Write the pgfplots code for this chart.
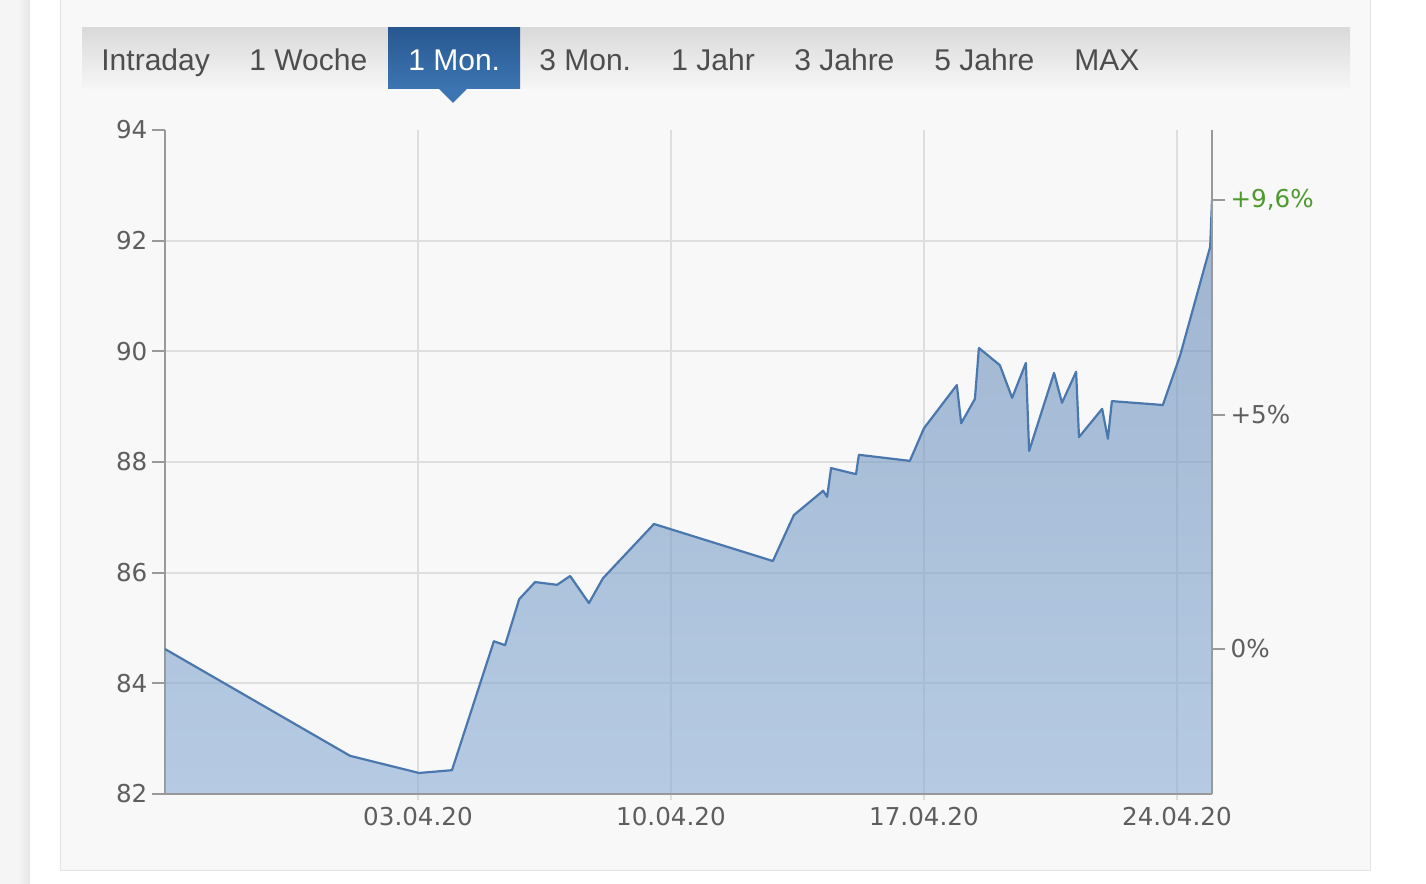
\documentclass[border=0pt]{standalone}
\usepackage{pgfplots}
\pgfplotsset{compat=1.18}
\usepackage{pgfplotstable}
\usepackage{fontspec}
\setmainfont{Liberation Sans}
\newfontfamily\tickfont{DejaVu Sans}

\definecolor{panelbg}{HTML}{F8F8F8}
\definecolor{panelborder}{HTML}{E3E3E3}
\definecolor{stripbg}{HTML}{F5F5F5}
\definecolor{stripdark}{HTML}{E6E6E6}
\definecolor{tabtop}{HTML}{DADADA}
\definecolor{tabbot}{HTML}{F6F6F6}
\definecolor{tabtext}{HTML}{4D4D4D}
\definecolor{seltop}{HTML}{285890}
\definecolor{selbot}{HTML}{3C75B2}
\definecolor{axisgray}{HTML}{999999}
\definecolor{gridcol}{HTML}{DEDEDE}
\definecolor{ticktext}{HTML}{5E5E5E}
\definecolor{pctgreen}{HTML}{4E9A2E}
\definecolor{linecol}{HTML}{4A78AE}
\definecolor{filltop}{HTML}{6488B5}
\definecolor{fillbot}{HTML}{8AADD5}

% days since 27.03.2020, price
\pgfplotstableread{
day   kurs
0     84.62
5.12  82.69
7.03  82.38
7.94  82.43
9.10  84.76
9.41  84.69
9.80  85.52
10.24 85.83
10.85 85.78
11.21 85.94
11.73 85.45
12.12 85.90
13.53 86.88
16.82 86.21
17.40 87.04
18.21 87.48
18.32 87.37
18.43 87.89
19.12 87.78
19.20 88.13
20.61 88.02
21.00 88.61
21.91 89.39
22.03 88.70
22.41 89.14
22.52 90.06
23.10 89.75
23.44 89.16
23.82 89.79
23.91 88.20
24.60 89.61
24.82 89.07
25.21 89.63
25.29 88.45
25.93 88.96
26.09 88.42
26.20 89.10
27.61 89.03
28.09 89.93
28.92 91.89
28.97 92.73
}\kurs

\begin{document}
\begin{tikzpicture}[x=0.5pt,y=0.5pt]
\useasboundingbox (0,0) rectangle (1426,884);
\fill[white] (0,0) rectangle (1426,884);
% left strip
\fill[stripbg] (0,0) rectangle (30,884);
\shade[left color=stripbg, right color=stripdark] (18,0) rectangle (30,884);
% panel
\fill[panelbg] (60,14) rectangle (1371,884);
\draw[panelborder, line width=0.8pt] (60.5,884) -- (60.5,13.5) -- (1370.5,13.5) -- (1370.5,884);
% tab bar
\shade[top color=tabtop, bottom color=tabbot] (82,795) rectangle (1350,856);
\shade[top color=seltop, bottom color=selbot] (388,795) rectangle (520,856);
\fill[selbot] (438,796) -- (468,796) -- (453,781) -- cycle;
\begin{scope}[every node/.style={anchor=base west, inner sep=0pt, text=tabtext, font=\fontsize{15}{18}\selectfont}]
\node at (101,813.5) {Intraday};
\node at (249,813.5) {1 Woche};
\node[text=white] at (408,813.5) {1 Mon.};
\node at (539,813.5) {3 Mon.};
\node at (671,813.5) {1 Jahr};
\node at (794,813.5) {3 Jahre};
\node at (934,813.5) {5 Jahre};
\node at (1074,813.5) {MAX};
\end{scope}

\pgfplotsset{chartbase/.style={
  at={(82.5pt,45pt)}, anchor=south west,
  width=523.5pt, height=332pt, scale only axis,
  xmin=0, xmax=28.97, ymin=82, ymax=94,
  axis line style={draw=axisgray, line width=1pt, -},
  tick align=outside,
  ticklabel style={font=\tickfont\fontsize{12.3}{14}\selectfont, text=ticktext},
  /pgf/number format/assume math mode=true,
}}

\begin{axis}[chartbase,
  axis x line*=bottom, axis y line*=left,
  xtick={7,14,21,28},
  xticklabels={03.04.20,10.04.20,17.04.20,24.04.20},
  ytick={82,84,...,92},
  extra y ticks={94}, extra tick style={grid=none},
  xmajorgrids, ymajorgrids,
  grid style={draw=gridcol, line width=1pt},
  ytick style={draw=axisgray, line width=1pt, /pgfplots/major tick length=6.5pt},
  xtick style={draw=gridcol, line width=1pt, /pgfplots/major tick length=3pt},
  yticklabel style={xshift=-1pt},
  xticklabel style={yshift=1pt},
]
\addplot[draw=none, top color=filltop, bottom color=fillbot, fill opacity=0.6] table[x=day, y=kurs] {\kurs} \closedcycle;
\addplot[draw=linecol, line width=1.1pt, line join=round, mark=none] table[x=day, y=kurs] {\kurs};
\draw[axisgray, line width=1pt] (axis cs:0,82) -- (axis cs:28.97,82);
\end{axis}

\begin{axis}[chartbase,
  axis x line=none, axis y line*=right,
  ytick={84.62,88.85,92.74},
  yticklabels={0\%,+5\%,{\textcolor{pctgreen}{+9,6\%}}},
  ytick style={draw=axisgray, line width=1pt, /pgfplots/major tick length=6.5pt},
  yticklabel style={xshift=1.5pt},
]
\end{axis}
\end{tikzpicture}
\end{document}
